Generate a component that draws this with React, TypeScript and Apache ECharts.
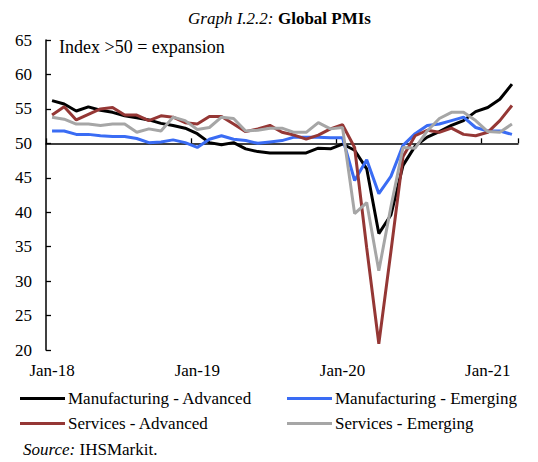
import React, { useEffect, useRef } from "react";
import * as echarts from "echarts";

const months: string[] = [
  "Jan-18", "Feb-18", "Mar-18", "Apr-18", "May-18", "Jun-18", "Jul-18", "Aug-18", "Sep-18", "Oct-18", "Nov-18", "Dec-18",
  "Jan-19", "Feb-19", "Mar-19", "Apr-19", "May-19", "Jun-19", "Jul-19", "Aug-19", "Sep-19", "Oct-19", "Nov-19", "Dec-19",
  "Jan-20", "Feb-20", "Mar-20", "Apr-20", "May-20", "Jun-20", "Jul-20", "Aug-20", "Sep-20", "Oct-20", "Nov-20", "Dec-20",
  "Jan-21", "Feb-21", "Mar-21",
];

const mfgAdvanced: number[] = [
  56.2, 55.7, 54.7, 55.3, 54.8, 54.5, 54.0, 53.7, 53.4, 52.9, 52.6, 52.2,
  51.4, 50.1, 49.8, 50.1, 49.2, 48.8, 48.6, 48.6, 48.6, 48.6, 49.3, 49.2,
  49.9, 49.0, 46.3, 36.9, 39.6, 46.8, 49.6, 50.9, 51.7, 52.6, 53.3, 54.6,
  55.2, 56.4, 58.6,
];

const mfgEmerging: number[] = [
  51.8, 51.8, 51.3, 51.3, 51.1, 51.0, 51.0, 50.7, 50.1, 50.2, 50.5, 50.1,
  49.4, 50.6, 51.1, 50.6, 50.4, 50.0, 50.2, 50.4, 50.9, 50.9, 50.9, 50.8,
  50.8, 44.6, 47.6, 42.7, 45.2, 49.7, 51.4, 52.6, 52.8, 53.3, 53.8, 52.3,
  51.8, 51.8, 51.3,
];

const svcAdvanced: number[] = [
  54.1, 55.3, 53.4, 54.2, 55.0, 55.2, 54.1, 54.1, 53.3, 54.0, 53.8, 53.0,
  52.8, 53.9, 53.9, 52.8, 51.7, 52.1, 52.6, 51.6, 51.2, 50.6, 51.2, 52.1,
  52.7, 49.4, 34.8, 20.9, 34.3, 48.1, 51.1, 51.9, 51.6, 52.2, 51.3, 51.1,
  51.6, 53.3, 55.5,
];

const svcEmerging: number[] = [
  53.8, 53.5, 52.8, 52.8, 52.6, 52.8, 52.8, 51.6, 52.1, 51.8, 53.8, 53.3,
  52.0, 52.3, 53.8, 53.6, 51.8, 51.9, 52.2, 52.2, 51.6, 51.6, 53.0, 52.1,
  52.3, 39.8, 41.4, 31.5, 40.8, 49.4, 49.3, 51.8, 53.6, 54.5, 54.5, 53.3,
  51.7, 51.6, 52.8,
];

const seriesNames: string[] = [
  "Manufacturing - Advanced",
  "Manufacturing - Emerging",
  "Services - Advanced",
  "Services - Emerging",
];

const Y_MIN = 20;
const Y_MAX = 65;
const Y_STEP = 5;
const BASELINE = 50;

const FONT = "'Liberation Serif', 'Times New Roman', serif";

export default function App() {
  const ref = useRef<HTMLDivElement>(null);

  useEffect(() => {
    if (!ref.current) return;
    const chart = echarts.init(ref.current, undefined, { renderer: "svg" });

    const gridTop = 40;
    const gridBottom = 112;
    const gridHeight = 462 - gridTop - gridBottom;
    const baselineOffset = -((BASELINE - Y_MIN) / (Y_MAX - Y_MIN)) * gridHeight;

    const colors = ["#000000", "#3a6cf4", "#953735", "#a6a6a6"];
    const data = [mfgAdvanced, mfgEmerging, svcAdvanced, svcEmerging];

    const legendText = { fontFamily: FONT, fontSize: 17, color: "#000", lineHeight: 25, padding: [0, 0, 0, -2] };

    chart.setOption({
      animation: false,
      backgroundColor: "#ffffff",
      textStyle: { fontFamily: FONT, color: "#000" },
      title: {
        text: "{i|Graph I.2.2:} {b|Global PMIs}",
        left: 183,
        top: 4,
        textStyle: {
          fontWeight: "normal",
          rich: {
            i: { fontFamily: FONT, fontStyle: "italic", fontWeight: "normal", fontSize: 17, color: "#000" },
            b: { fontFamily: FONT, fontWeight: "bold", fontSize: 17, color: "#000" },
          },
        },
      },
      grid: { left: 46, right: 20, top: gridTop, bottom: gridBottom, containLabel: false },
      legend: [
        {
          data: [seriesNames[0], seriesNames[2]],
          orient: "vertical",
          left: 20,
          top: 386,
          padding: 0,
          icon: "rect",
          itemWidth: 45,
          itemHeight: 3,
          itemGap: 0,
          textStyle: legendText,
        },
        {
          data: [seriesNames[1], seriesNames[3]],
          orient: "vertical",
          left: 287,
          top: 386,
          padding: 0,
          icon: "rect",
          itemWidth: 45,
          itemHeight: 3,
          itemGap: 0,
          textStyle: legendText,
        },
      ],
      xAxis: [
        {
          type: "category",
          data: months,
          boundaryGap: true,
          position: "bottom",
          axisLine: { show: false },
          axisTick: { show: false },
          axisLabel: { interval: 11, fontFamily: FONT, fontSize: 17, color: "#000", margin: 12 },
          splitLine: { show: false },
        },
        {
          type: "category",
          data: months,
          boundaryGap: true,
          position: "bottom",
          offset: baselineOffset,
          axisLine: { show: true, onZero: false, lineStyle: { color: "#000", width: 1.5 } },
          axisTick: { show: true, inside: true, length: 5, interval: 11, lineStyle: { color: "#000", width: 1.3 } },
          axisLabel: { show: false },
          splitLine: { show: false },
        },
      ],
      yAxis: {
        type: "value",
        min: Y_MIN,
        max: Y_MAX,
        interval: Y_STEP,
        axisLine: { show: true, lineStyle: { color: "#000", width: 1.5 } },
        axisTick: { show: true, inside: true, length: 5, lineStyle: { color: "#000", width: 1.3 } },
        axisLabel: { fontFamily: FONT, fontSize: 17, color: "#000", margin: 14 },
        splitLine: { show: false },
      },
      graphic: [
        {
          type: "text",
          left: 59,
          top: 38,
          style: { text: "Index >50 = expansion", font: `18px ${FONT}`, fill: "#000" },
        },
        {
          type: "text",
          left: 23,
          top: 441,
          style: {
            text: "{i|Source:} IHSMarkit.",
            font: `17px ${FONT}`,
            fill: "#000",
            rich: { i: { fontStyle: "italic", fontFamily: FONT, fontSize: 17, fill: "#000" } },
          },
        },
      ],
      series: data.map((d, k) => ({
        name: seriesNames[k],
        type: "line",
        xAxisIndex: 0,
        data: d,
        showSymbol: false,
        symbol: "none",
        lineStyle: { color: colors[k], width: 3 },
        itemStyle: { color: colors[k] },
      })),
    });

    return () => chart.dispose();
  }, []);

  return (
    <div
      ref={ref}
      style={{ position: "absolute", left: 0, top: 0, width: 538, height: 462 }}
    />
  );
}
